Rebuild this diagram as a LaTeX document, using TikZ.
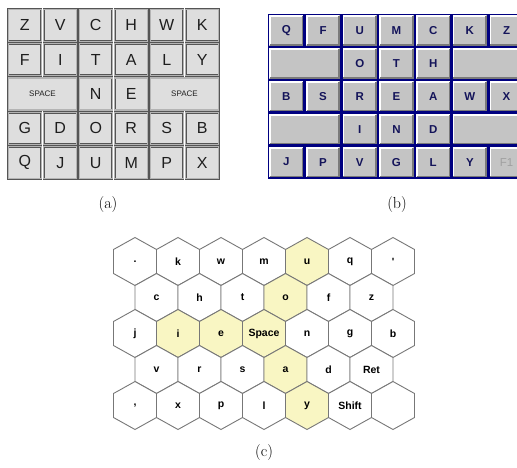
\documentclass[tikz,border=0pt]{standalone}
\usepackage{fontspec}
\newfontfamily\arialf{Liberation Sans}
\definecolor{akeyface}{HTML}{DEDEDE}
\definecolor{akeydark}{HTML}{555555}
\definecolor{akeylight}{HTML}{B4B4B4}
\definecolor{akeytext}{HTML}{1E1E1E}
\definecolor{bface}{HTML}{C4C4C4}
\definecolor{bnavy}{HTML}{000080}
\definecolor{btext}{HTML}{14145A}
\definecolor{bshadow}{HTML}{7A7A7A}
\definecolor{bgrey}{HTML}{A0A0A0}
\definecolor{hexline}{HTML}{777777}
\definecolor{hexyellow}{HTML}{F9F6C3}
\newcommand{\hexk}[5]{%
  \draw[hexstroke, fill=#4] (#2,#3-24) -- (#2+21.5,#3-12) -- (#2+21.5,#3+12) -- (#2,#3+24) -- (#2-21.5,#3+12) -- (#2-21.5,#3-12) -- cycle;
  \node[hexlabel] (#1) at (#2,#3) {#5};
}
\begin{document}
\begin{tikzpicture}[x=1pt,y=-1pt,
  akey/.style={rectangle, draw=akeydark, double=akeylight, double distance=1.2pt, line width=0.6pt,
    fill=akeyface, minimum width=33pt, minimum height=32pt, inner sep=0pt, outer sep=0pt,
    font=\arialf\fontsize{16}{16}\selectfont, text=akeytext},
  bkey/.style={rectangle, fill=bface, draw=bnavy, line width=1.3pt,
    minimum width=35.4pt, minimum height=31.6pt, inner sep=0pt, outer sep=0pt,
    font=\arialf\bfseries\fontsize{11.5}{12}\selectfont, text=btext,
    path picture={
      \draw[white, line width=2pt] ([xshift=1.3pt,yshift=1.3pt]path picture bounding box.south west) |- ([xshift=-1.3pt,yshift=-1.3pt]path picture bounding box.north east);
      \draw[bshadow, line width=2pt] ([xshift=1.3pt,yshift=1.3pt]path picture bounding box.south west) -| ([xshift=-1.3pt,yshift=-1.3pt]path picture bounding box.north east);
    }},
  hexstroke/.style={draw=hexline, line width=0.9pt, line join=miter},
  hexlabel/.style={font=\arialf\bfseries\fontsize{10.5}{11}\selectfont, text=black, inner sep=0pt},
  caplabel/.style={font=\fontsize{16}{16}\selectfont, inner sep=0pt}
]
\useasboundingbox (0,0) rectangle (517,467);

% ---------- panel (a) ----------
\foreach \t [count=\c from 0] in {Z,V,C,H,W,K}
  \node[akey] (a-0-\c) at ({7+35.5*(\c+0.5)},{8+34.4*0.5}) {\t};
\foreach \t [count=\c from 0] in {F,I,T,A,L,Y}
  \node[akey] (a-1-\c) at ({7+35.5*(\c+0.5)},{8+34.4*1.5}) {\t};
\node[akey, minimum width=68.5pt, font=\arialf\fontsize{8}{8}\selectfont] (a-2-0) at ({7+35.5*1},{8+34.4*2.5}) {SPACE};
\node[akey] (a-2-2) at ({7+35.5*2.5},{8+34.4*2.5}) {N};
\node[akey] (a-2-3) at ({7+35.5*3.5},{8+34.4*2.5}) {E};
\node[akey, minimum width=68.5pt, font=\arialf\fontsize{8}{8}\selectfont] (a-2-4) at ({7+35.5*5},{8+34.4*2.5}) {SPACE};
\foreach \t [count=\c from 0] in {G,D,O,R,S,B}
  \node[akey] (a-3-\c) at ({7+35.5*(\c+0.5)},{8+34.4*3.5}) {\t};
\foreach \t [count=\c from 0] in {Q,J,U,M,P,X}
  \node[akey] (a-4-\c) at ({7+35.5*(\c+0.5)},{8+34.4*4.5}) {\t};

% ---------- panel (b) ----------
\begin{scope}
\clip (250,0) rectangle (517,200);
\foreach \t [count=\c from 0] in {Q,F,U,M,C,K,Z}
  \node[bkey] (b-0-\c) at ({268+36.7*(\c+0.5)},{14+32.9*0.5}) {\t};
\node[bkey, minimum width=72.1pt] (b-1-0) at ({268+36.7*1},{14+32.9*1.5}) {};
\foreach \t [count=\c from 2] in {O,T,H}
  \node[bkey] (b-1-\c) at ({268+36.7*(\c+0.5)},{14+32.9*1.5}) {\t};
\node[bkey, minimum width=72.1pt] (b-1-5) at ({268+36.7*6},{14+32.9*1.5}) {};
\foreach \t [count=\c from 0] in {B,S,R,E,A,W,X}
  \node[bkey] (b-2-\c) at ({268+36.7*(\c+0.5)},{14+32.9*2.5}) {\t};
\node[bkey, minimum width=72.1pt] (b-3-0) at ({268+36.7*1},{14+32.9*3.5}) {};
\foreach \t [count=\c from 2] in {I,N,D}
  \node[bkey] (b-3-\c) at ({268+36.7*(\c+0.5)},{14+32.9*3.5}) {\t};
\node[bkey, minimum width=72.1pt] (b-3-5) at ({268+36.7*6},{14+32.9*3.5}) {};
\foreach \t [count=\c from 0] in {J,P,V,G,L,Y}
  \node[bkey] (b-4-\c) at ({268+36.7*(\c+0.5)},{14+32.9*4.5}) {\t};
\node[bkey, text=bgrey, font=\arialf\fontsize{11.5}{12}\selectfont] (b-4-6) at ({268+36.7*6.5},{14+32.9*4.5}) {F1};
\end{scope}

% captions
\node[caplabel] (capa) at (108,205) {(a)};
\node[caplabel] (capb) at (397,205) {(b)};

% ---------- panel (c) ----------
% row 0
\hexk{h00}{135}{261.5}{white}{.}
\hexk{h01}{178}{261.5}{white}{k}
\hexk{h02}{221}{261.5}{white}{w}
\hexk{h03}{264}{261.5}{white}{m}
\hexk{h04}{307}{261.5}{hexyellow}{u}
\hexk{h05}{350}{261.5}{white}{q}
\hexk{h06}{393}{261.5}{white}{'}
% row 1
\hexk{h10}{156.5}{297.5}{white}{c}
\hexk{h11}{199.5}{297.5}{white}{h}
\hexk{h12}{242.5}{297.5}{white}{t}
\hexk{h13}{285.5}{297.5}{hexyellow}{o}
\hexk{h14}{328.5}{297.5}{white}{f}
\hexk{h15}{371.5}{297.5}{white}{z}
% row 2
\hexk{h20}{135}{333.5}{white}{j}
\hexk{h21}{178}{333.5}{hexyellow}{i}
\hexk{h22}{221}{333.5}{hexyellow}{e}
\hexk{h23}{264}{333.5}{hexyellow}{Space}
\hexk{h24}{307}{333.5}{white}{n}
\hexk{h25}{350}{333.5}{white}{g}
\hexk{h26}{393}{333.5}{white}{b}
% row 3
\hexk{h30}{156.5}{369.5}{white}{v}
\hexk{h31}{199.5}{369.5}{white}{r}
\hexk{h32}{242.5}{369.5}{white}{s}
\hexk{h33}{285.5}{369.5}{hexyellow}{a}
\hexk{h34}{328.5}{369.5}{white}{d}
\hexk{h35}{371.5}{369.5}{white}{Ret}
% row 4
\hexk{h40}{135}{405.5}{white}{,}
\hexk{h41}{178}{405.5}{white}{x}
\hexk{h42}{221}{405.5}{white}{p}
\hexk{h43}{264}{405.5}{white}{l}
\hexk{h44}{307}{405.5}{hexyellow}{y}
\hexk{h45}{350}{405.5}{white}{Shift}
\hexk{h46}{393}{405.5}{white}{}

\node[caplabel] (capc) at (264,452) {(c)};
\end{tikzpicture}
\end{document}
